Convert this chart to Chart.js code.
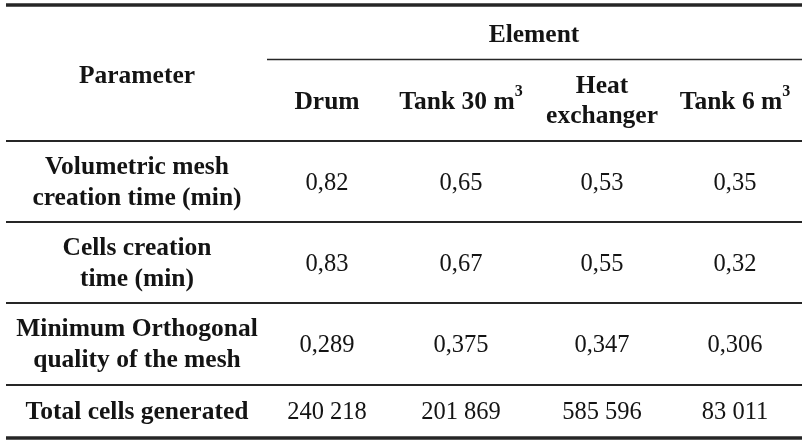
<!DOCTYPE html>
<html>
<head>
<meta charset="utf-8">
<script src="https://cdn.jsdelivr.net/npm/chart.js"></script>
<style>
  body { margin: 0; background: #fff; }
  #wrap { width: 803px; height: 447px; }
</style>
</head>
<body>
<div id="wrap"><canvas id="table-chart" width="803" height="447"></canvas></div>
<script>
// table content
const groupTitle = 'Element';
const rowHeader = 'Parameter';
const elements = [['Drum'], ['Tank 30 m', '3'], ['Heat', 'exchanger'], ['Tank 6 m', '3']];
const parameters = [
    ['Volumetric mesh', 'creation time (min)'],
    ['Cells creation', 'time (min)'],
    ['Minimum Orthogonal', 'quality of the mesh'],
    ['Total cells generated']
];
const meshTime = [0.82, 0.65, 0.53, 0.35];
const cellsTime = [0.83, 0.67, 0.55, 0.32];
const orthoQuality = [0.289, 0.375, 0.347, 0.306];
const totalCells = [240218, 201869, 585596, 83011];

// layout (in scale units = pixels of the reference)
const colX = [137, 327, 461, 602, 735];
const rowY = [184, 265, 346, 413];
const ruleY = [222, 303, 385];
const TEXT = '#141414';
const RULE = '#262626';
const FONT = '"Liberation Serif", "Times New Roman", serif';
const BOLD = 'bold 25.5px ' + FONT;
const REG = '24.5px ' + FONT;
const SUP = 'bold 16px ' + FONT;

function fmtDec(v, d) { return v.toFixed(d).replace('.', ','); }
function fmtInt(v) { return String(v).replace(/\B(?=(\d{3})+(?!\d))/g, ' '); }

const rows = [
    meshTime.map(v => fmtDec(v, 2)),
    cellsTime.map(v => fmtDec(v, 2)),
    orthoQuality.map(v => fmtDec(v, 3)),
    totalCells.map(fmtInt)
];

const tablePlugin = {
    id: 'tablePlugin',
    afterDraw(chart) {
        const ctx = chart.ctx;
        const xs = chart.scales.x, ys = chart.scales.y;
        const px = v => xs.getPixelForValue(v);
        const py = v => ys.getPixelForValue(v);

        const hline = (y, x0, x1, w) => {
            ctx.beginPath();
            ctx.lineWidth = w;
            ctx.strokeStyle = RULE;
            ctx.moveTo(px(x0), py(y));
            ctx.lineTo(px(x1), py(y));
            ctx.stroke();
        };
        const text = (s, x, y, bold) => {
            ctx.font = bold ? BOLD : REG;
            ctx.fillStyle = TEXT;
            ctx.textAlign = 'center';
            ctx.textBaseline = 'middle';
            ctx.fillText(s, px(x), py(y));
        };
        const lines = (arr, x, yc, gap, bold) => {
            const y0 = yc - gap * (arr.length - 1) / 2;
            arr.forEach((s, i) => text(s, x, y0 + i * gap, bold));
        };

        ctx.save();
        // rules
        hline(5, 6, 802, 3.5);
        hline(59.5, 267, 802, 1.5);
        hline(141, 6, 802, 2);
        ruleY.forEach(y => hline(y, 6, 802, 2));
        hline(438, 6, 802, 3.5);

        // header
        text(groupTitle, 534, 35, true);
        text(rowHeader, colX[0], 76, true);
        elements.forEach((el, i) => {
            const x = colX[i + 1];
            if (el[0] === 'Heat') {
                lines(el, x, 101, 30, true);
            } else if (el.length === 2) {
                ctx.font = BOLD;
                const w = ctx.measureText(el[0]).width;
                ctx.font = SUP;
                const ws = ctx.measureText(el[1]).width;
                const left = px(x) - (w + ws) / 2;
                ctx.fillStyle = TEXT;
                ctx.textAlign = 'left';
                ctx.textBaseline = 'middle';
                ctx.font = BOLD;
                ctx.fillText(el[0], left, py(102));
                ctx.font = SUP;
                ctx.fillText(el[1], left + w, py(92));
            } else {
                text(el[0], x, 102, true);
            }
        });

        // body
        parameters.forEach((p, r) => {
            lines(p, colX[0], rowY[r] - 1, 31, true);
            rows[r].forEach((v, c) => text(v, colX[c + 1], rowY[r], false));
        });
        ctx.restore();
    }
};

new Chart(document.getElementById('table-chart'), {
    type: 'scatter',
    data: { datasets: [{ data: [] }] },
    options: {
        responsive: false,
        animation: false,
        layout: { padding: 0 },
        plugins: { legend: { display: false }, tooltip: { enabled: false } },
        scales: {
            x: { type: 'linear', min: 0, max: 803, display: false },
            y: { type: 'linear', min: 0, max: 447, reverse: true, display: false }
        }
    },
    plugins: [tablePlugin]
});
</script>
</body>
</html>
